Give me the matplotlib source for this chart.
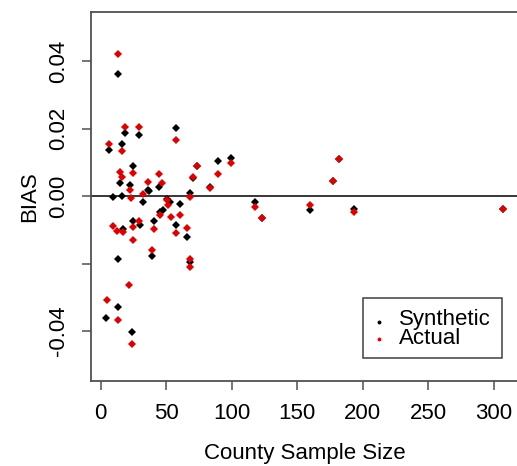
import matplotlib.pyplot as plt
from matplotlib.patches import Rectangle
from matplotlib.lines import Line2D

plt.rcParams["font.family"] = ["Liberation Sans", "DejaVu Sans"]

# county sample size vs bias, synthetic estimator
syn_size = [13.4, 18.5, 29.5, 57.5, 6.6, 16.5, 14.7, 25.0, 22.4, 36.3,
            37.0, 44.5, 32.5, 68.2, 70.7, 73.3, 83.4, 89.8, 99.2, 9.2,
            16.5, 50.4, 52.9, 60.5, 45.3, 47.5, 57.5, 65.6, 68.2, 24.4,
            30.0, 17.3, 40.9, 39.4, 13.0, 13.4, 4.0, 23.7, 117.8, 122.9,
            159.8, 177.1, 181.9, 193.6, 306.9]
syn_bias = [0.0361, 0.0188, 0.0181, 0.0201, 0.0136, 0.0155, 0.0039, 0.0089, 0.0033, 0.0018,
            0.0015, 0.0028, -0.0019, 0.0010, 0.0055, 0.0088, 0.0028, 0.0104, 0.0113, -0.0004,
            0.0001, -0.0010, -0.0017, -0.0024, -0.0047, -0.0040, -0.0086, -0.0122, -0.0195, -0.0074,
            -0.0086, -0.0098, -0.0074, -0.0177, -0.0185, -0.0330, -0.0361, -0.0402, -0.0017, -0.0064,
            -0.0041, 0.0044, 0.0109, -0.0038, -0.0039]

# same counties, actual (direct) estimator
act_size = [13.4, 18.5, 29.5, 57.5, 6.6, 16.5, 14.7, 25.0, 16.5, 22.4,
            36.3, 44.5, 46.6, 32.5, 68.2, 70.7, 73.3, 83.4, 89.8, 99.2,
            23.1, 50.4, 51.1, 60.5, 45.3, 53.7, 57.5, 65.6, 68.2, 68.2,
            29.5, 24.9, 9.2, 12.2, 17.3, 40.9, 24.4, 39.4, 21.6, 4.6,
            13.4, 23.7, 117.8, 122.9, 159.8, 177.1, 181.9, 193.6, 306.9]
act_bias = [0.0420, 0.0205, 0.0205, 0.0167, 0.0155, 0.0133, 0.0070, 0.0069, 0.0057, 0.0017,
            0.0041, 0.0064, 0.0038, 0.0005, -0.0002, 0.0057, 0.0088, 0.0023, 0.0064, 0.0097,
            -0.0007, -0.0012, -0.0027, -0.0056, -0.0056, -0.0063, -0.0108, -0.0096, -0.0187, -0.0211,
            -0.0074, -0.0091, -0.0088, -0.0103, -0.0106, -0.0098, -0.0130, -0.0160, -0.0264, -0.0308,
            -0.0367, -0.0439, -0.0033, -0.0064, -0.0027, 0.0044, 0.0109, -0.0046, -0.0039]

xticks = [0, 50, 100, 150, 200, 250, 300]
yticks = [-0.04, -0.02, 0.0, 0.02, 0.04]
ytick_labels = ["-0.04", "", "0.00", "0.02", "0.04"]

W, H = 517, 466
fig = plt.figure(figsize=(W / 100, H / 100), dpi=100)
ax = fig.add_axes([91 / W, 1 - 381 / H, (519 - 91) / W, (381 - 12.5) / H])

ax.plot(syn_size, syn_bias, ls="none", marker="D", ms=4.3, mew=0, color="black")
ax.plot(act_size, act_bias, ls="none", marker="D", ms=4.3, mew=0, color="#e00000")
ax.axhline(0, color="black", lw=1.1, zorder=0)

ax.set_xlim(-7.4, 319.3)
ax.set_ylim(-0.0548, 0.0544)
ax.set_xticks(xticks)
ax.set_xticklabels([str(t) for t in xticks])
ax.set_yticks(yticks)
ax.set_yticklabels(ytick_labels, rotation=90, va="center")

frame = "#505050"
for s in ax.spines.values():
    s.set_color(frame)
    s.set_linewidth(1.3)
ax.tick_params(direction="out", length=6.5, width=1.1, color=frame,
               labelsize=16, pad=9)

ax.set_xlabel("County Sample Size", fontsize=16, labelpad=14)
ax.set_ylabel("BIAS", fontsize=16, labelpad=6)

# legend box, drawn in pixel-based figure coordinates
def fx(px):
    return px / W

def fy(py):
    return 1 - py / H

fig.add_artist(Rectangle((fx(362.7), fy(358.3)), (501.7 - 362.7) / W, 60 / H,
                         transform=fig.transFigure, fill=False,
                         edgecolor="#404040", lw=1.1))
fig.add_artist(Line2D([fx(379.3)], [fy(321.7)], marker="o", ms=2.8, mew=0,
                      color="black", transform=fig.transFigure))
fig.add_artist(Line2D([fx(379.3)], [fy(339.3)], marker="o", ms=2.8, mew=0,
                      color="#e00000", transform=fig.transFigure))
fig.text(fx(399), fy(325), "Synthetic", fontsize=16, va="baseline")
fig.text(fx(399), fy(344.3), "Actual", fontsize=16, va="baseline")

fig.savefig("out.png", dpi=100)
